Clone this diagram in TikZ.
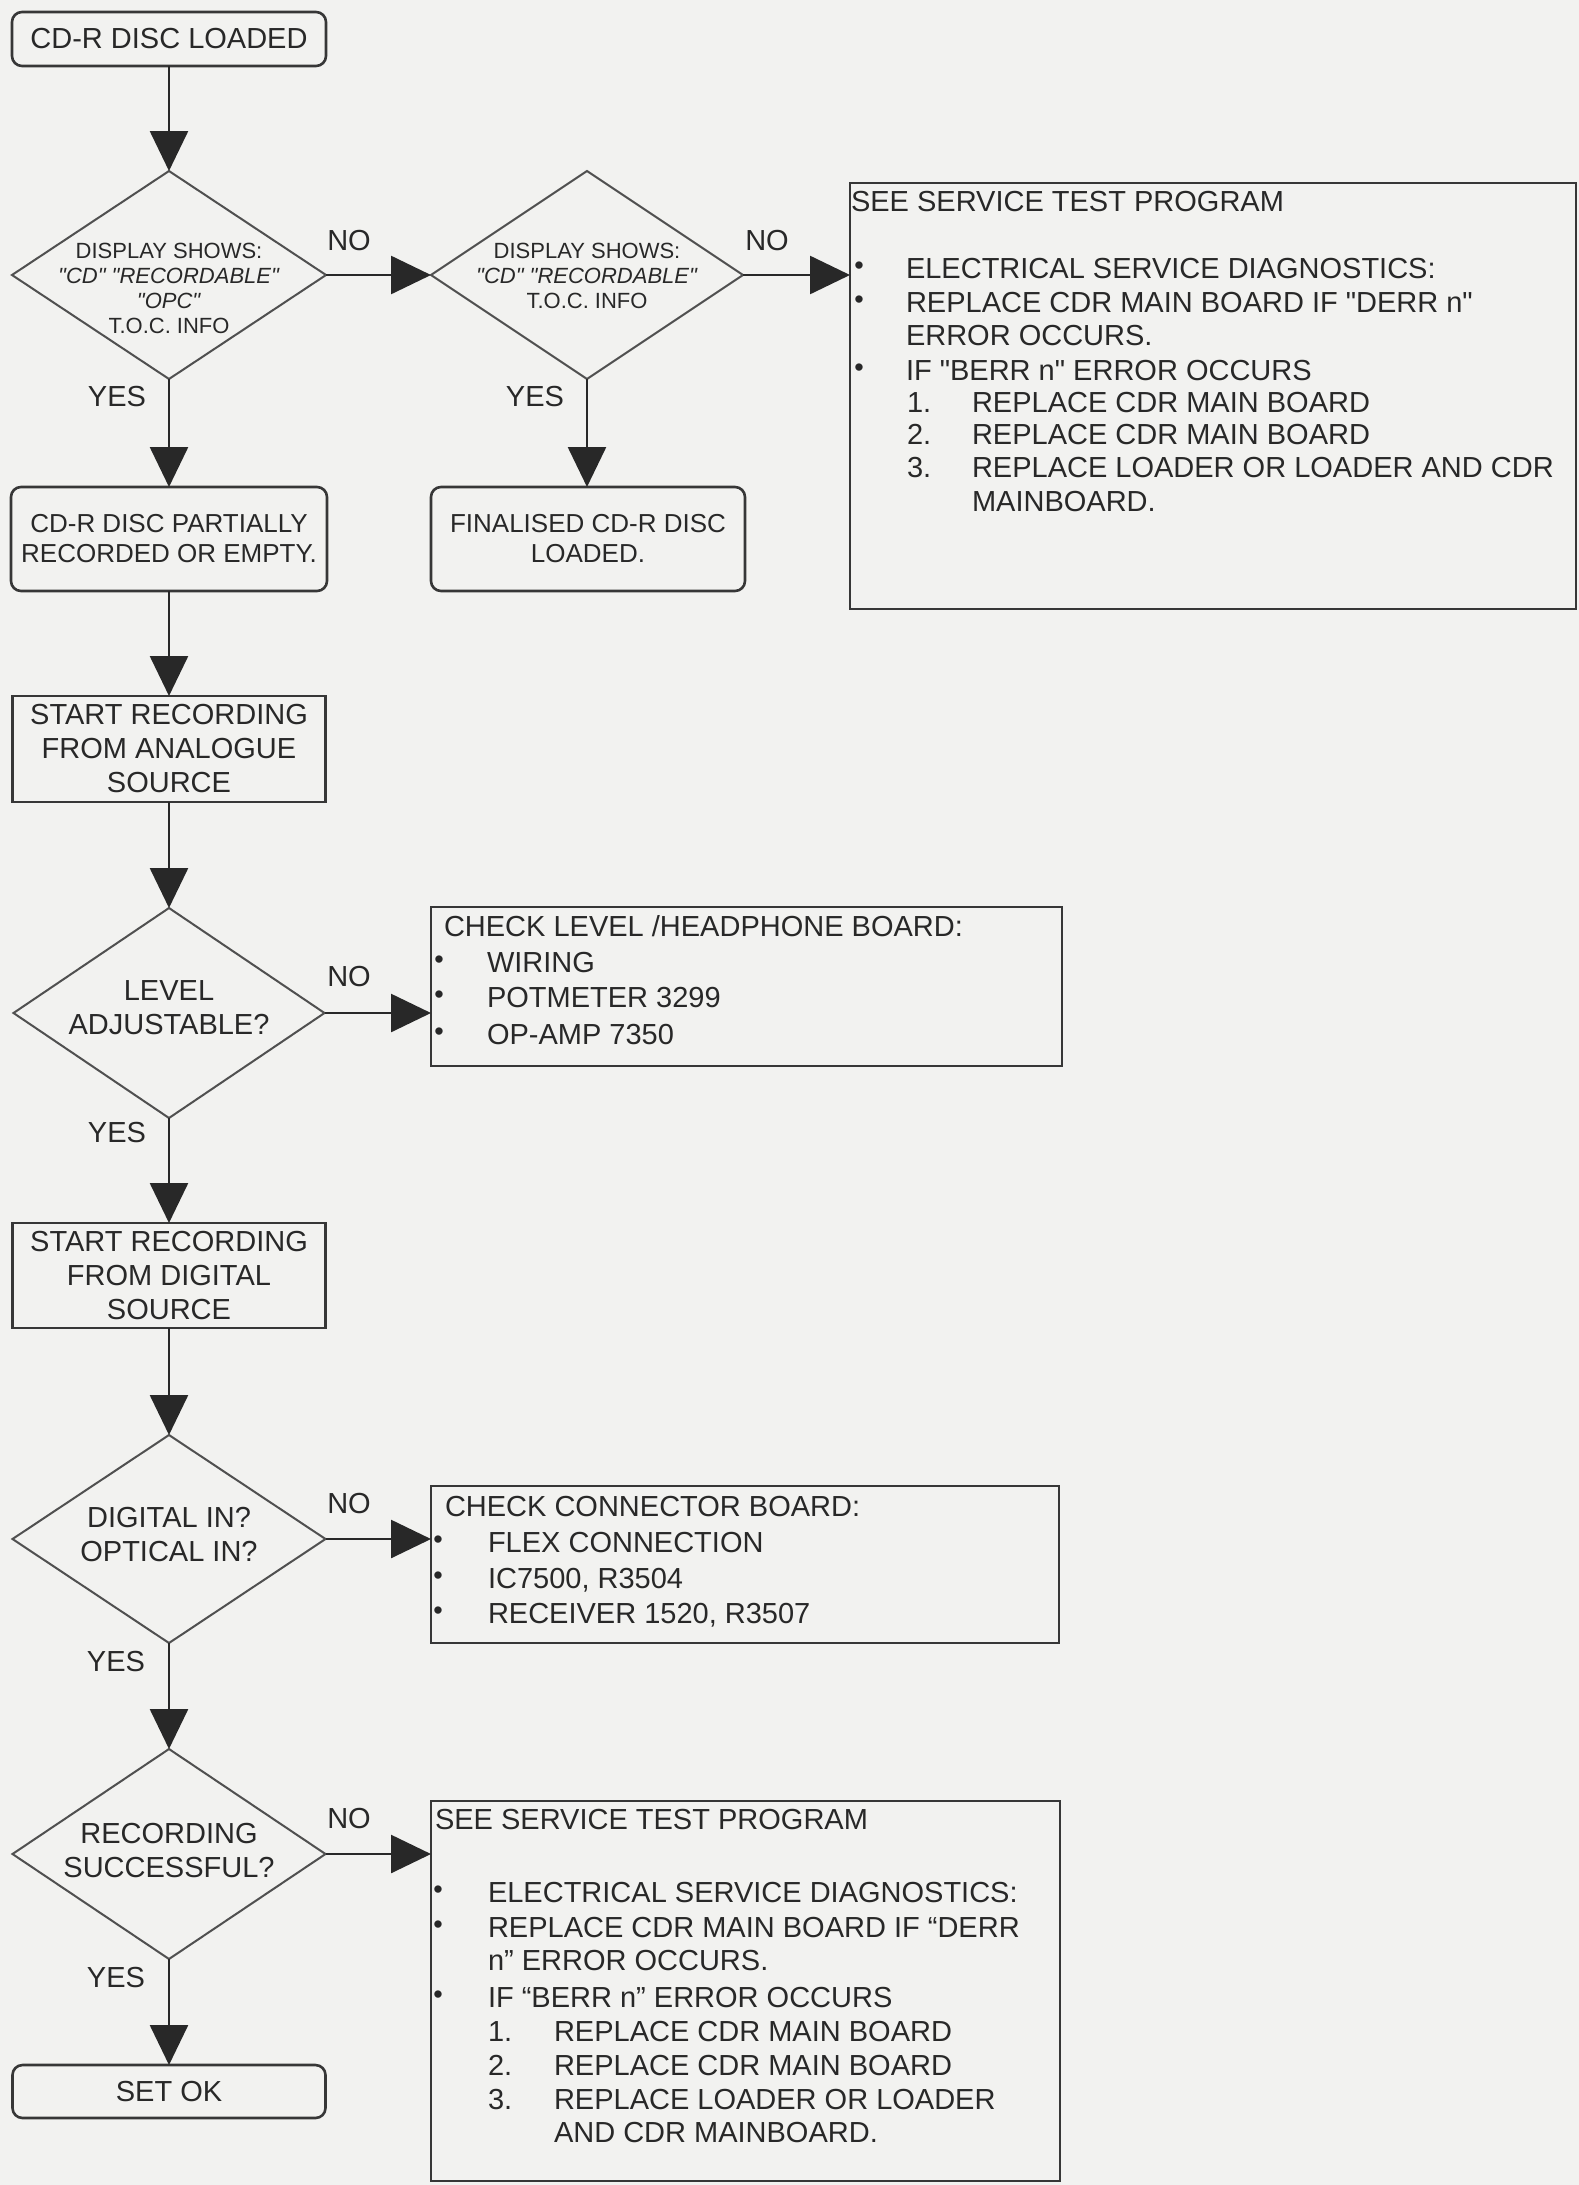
\documentclass[tikz,border=0pt]{standalone}
\usepackage{fontspec}
\setmainfont{Liberation Sans}
\usetikzlibrary{shapes.geometric,arrows.meta}
\definecolor{paper}{RGB}{242,242,240}
\definecolor{ink}{RGB}{40,40,40}
\definecolor{rim}{RGB}{55,55,55}
\definecolor{dim}{RGB}{80,80,80}
\newcommand{\dq}{\textquotedbl}

\begin{document}
\begin{tikzpicture}[x=1pt, y=-1pt,
  every node/.style={inner sep=0pt, outer sep=0pt, text=ink},
  main/.style={font=\fontsize{29}{34}\selectfont},
  small/.style={font=\fontsize{22}{25}\selectfont, align=center},
  sbox/.style={main, draw=rim, line width=2.6pt, align=center},
  rbox/.style={sbox, rounded corners=10pt},
  dia/.style={diamond, draw=dim, line width=2pt},
  ln/.style={main, anchor=base west},
  bul/.style={font=\fontsize{27}{27}\selectfont, anchor=center},
  flow/.style={draw=ink, line width=2.6pt, -{Triangle[length=40pt,width=38pt]}}]

% paper
\fill[paper] (0,0) rectangle (1579,2185);
\useasboundingbox (0,0) rectangle (1579,2185);

% ---------- shapes ----------
\node[rbox, minimum width=314pt, minimum height=54pt] (load) at (169,39) {CD-R DISC LOADED};

\node[dia, minimum width=314pt, minimum height=208pt] (q1) at (169,275) {};
\node[small] (q1t) at (169,288) {DISPLAY SHOWS:\\\textit{\dq CD\dq\ \dq RECORDABLE\dq}\\\textit{\dq OPC\dq}\\T.O.C. INFO};

\node[dia, minimum width=312pt, minimum height=208pt] (q2) at (587,275) {};
\node[small] (q2t) at (587,276) {DISPLAY SHOWS:\\\textit{\dq CD\dq\ \dq RECORDABLE\dq}\\T.O.C. INFO};

\node[sbox, minimum width=726pt, minimum height=426pt] (svc1) at (1213,396) {};

\node[rbox, font=\fontsize{26}{30}\selectfont, minimum width=316pt, minimum height=104pt] (part) at (169,539) {CD-R DISC PARTIALLY\\RECORDED OR EMPTY.};
\node[rbox, font=\fontsize{26}{30}\selectfont, minimum width=314pt, minimum height=104pt] (fin) at (588,539) {FINALISED CD-R DISC\\LOADED.};

\node[sbox, minimum width=313pt, minimum height=106pt] (ana) at (169,749) {START RECORDING\\FROM ANALOGUE\\SOURCE};

\node[dia, minimum width=311pt, minimum height=210pt] (q3) at (169,1013) {};
\node[main, align=center] (q3t) at (169,1008) {LEVEL\\ADJUSTABLE?};

\node[sbox, minimum width=631pt, minimum height=159pt] (lvl) at (746.5,986.5) {};

\node[sbox, minimum width=313pt, minimum height=105pt] (dig) at (169,1275.5) {START RECORDING\\FROM DIGITAL\\SOURCE};

\node[dia, minimum width=313pt, minimum height=208pt] (q4) at (169,1539) {};
\node[main, align=center] (q4t) at (169,1534) {DIGITAL IN?\\OPTICAL IN?};

\node[sbox, minimum width=628pt, minimum height=157pt] (con) at (745,1564.5) {};

\node[dia, minimum width=313pt, minimum height=210pt] (q5) at (169,1854) {};
\node[main, align=center] (q5t) at (169,1850) {RECORDING\\SUCCESSFUL?};

\node[sbox, minimum width=629pt, minimum height=380pt] (svc2) at (745.5,1991) {};

\node[rbox, minimum width=313pt, minimum height=53pt] (ok) at (169,2091.5) {SET OK};

% ---------- connectors ----------
\draw[flow] (load.south) -- (q1.north);
\draw[flow] (q1.east) -- (q2.west);
\draw[flow] (q2.east) -- (q2.east -| svc1.west);
\draw[flow] (q1.south) -- (part.north);
\draw[flow] (q2.south) -- (q2.south |- fin.north);
\draw[flow] (part.south) -- (ana.north);
\draw[flow] (ana.south) -- (q3.north);
\draw[flow] (q3.east) -- (q3.east -| lvl.west);
\draw[flow] (q3.south) -- (dig.north);
\draw[flow] (dig.south) -- (q4.north);
\draw[flow] (q4.east) -- (q4.east -| con.west);
\draw[flow] (q4.south) -- (q5.north);
\draw[flow] (q5.east) -- (q5.east -| svc2.west);
\draw[flow] (q5.south) -- (ok.north);

% ---------- branch labels ----------
\node[main] (no1) at (349,241) {NO};
\node[main] (no2) at (767,241) {NO};
\node[main] (no3) at (349,977) {NO};
\node[main] (no4) at (349,1503) {NO};
\node[main] (no5) at (349,1818) {NO};
\node[main] (yes1) at (117,397) {YES};
\node[main] (yes2) at (535,397) {YES};
\node[main] (yes3) at (117,1133) {YES};
\node[main] (yes4) at (116,1661) {YES};
\node[main] (yes5) at (116,1977) {YES};

% ---------- upper service box ----------
\node[ln] (a0) at (851,211) {SEE SERVICE TEST PROGRAM};
\node[bul] (a1b) at (859,268) {\textbullet};
\node[ln] (a1) at (906,278) {ELECTRICAL SERVICE DIAGNOSTICS:};
\node[bul] (a2b) at (859,302) {\textbullet};
\node[ln] (a2) at (906,312) {REPLACE CDR MAIN BOARD IF \dq DERR n\dq};
\node[ln] (a3) at (906,345) {ERROR OCCURS.};
\node[bul] (a4b) at (859,370) {\textbullet};
\node[ln] (a4) at (906,380) {IF \dq BERR n\dq\ ERROR OCCURS};
\node[ln] (a5n) at (907,412) {1.};
\node[ln] (a5) at (972,412) {REPLACE CDR MAIN BOARD};
\node[ln] (a6n) at (907,444) {2.};
\node[ln] (a6) at (972,444) {REPLACE CDR MAIN BOARD};
\node[ln] (a7n) at (907,477) {3.};
\node[ln] (a7) at (972,477) {REPLACE LOADER OR LOADER AND CDR};
\node[ln] (a8) at (972,511) {MAINBOARD.};

% ---------- level box ----------
\node[ln] (b0) at (444,936) {CHECK LEVEL /HEADPHONE BOARD:};
\node[bul] (b1b) at (439,962) {\textbullet};
\node[ln] (b1) at (487,972) {WIRING};
\node[bul] (b2b) at (439,997) {\textbullet};
\node[ln] (b2) at (487,1007) {POTMETER 3299};
\node[bul] (b3b) at (439,1034) {\textbullet};
\node[ln] (b3) at (487,1044) {OP-AMP 7350};

% ---------- connector box ----------
\node[ln] (c0) at (445,1516) {CHECK CONNECTOR BOARD:};
\node[bul] (c1b) at (438,1542) {\textbullet};
\node[ln] (c1) at (488,1552) {FLEX CONNECTION};
\node[bul] (c2b) at (438,1578) {\textbullet};
\node[ln] (c2) at (488,1588) {IC7500, R3504};
\node[bul] (c3b) at (438,1613) {\textbullet};
\node[ln] (c3) at (488,1623) {RECEIVER 1520, R3507};

% ---------- lower service box ----------
\node[ln] (d0) at (435,1829) {SEE SERVICE TEST PROGRAM};
\node[bul] (d1b) at (438,1892) {\textbullet};
\node[ln] (d1) at (488,1902) {ELECTRICAL SERVICE DIAGNOSTICS:};
\node[bul] (d2b) at (438,1927) {\textbullet};
\node[ln] (d2) at (488,1937) {REPLACE CDR MAIN BOARD IF “DERR};
\node[ln] (d3) at (488,1970) {n” ERROR OCCURS.};
\node[bul] (d4b) at (438,1997) {\textbullet};
\node[ln] (d4) at (488,2007) {IF “BERR n” ERROR OCCURS};
\node[ln] (d5n) at (488,2041) {1.};
\node[ln] (d5) at (554,2041) {REPLACE CDR MAIN BOARD};
\node[ln] (d6n) at (488,2075) {2.};
\node[ln] (d6) at (554,2075) {REPLACE CDR MAIN BOARD};
\node[ln] (d7n) at (488,2109) {3.};
\node[ln] (d7) at (554,2109) {REPLACE LOADER OR LOADER};
\node[ln] (d8) at (554,2142) {AND CDR MAINBOARD.};

\end{tikzpicture}
\end{document}
